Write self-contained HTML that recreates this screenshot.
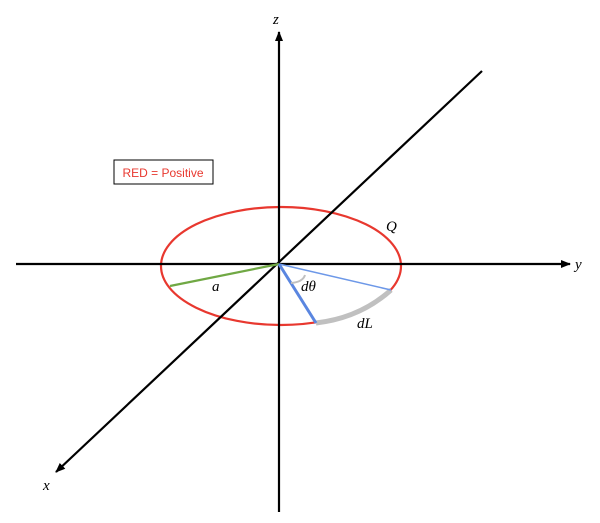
<!DOCTYPE html>
<html><head><style>body{margin:0;background:#fff}svg{display:block}</style></head>
<body>
<svg width="600" height="523" viewBox="0 0 600 523" xmlns="http://www.w3.org/2000/svg">
<defs>
<marker id="ar" markerWidth="10" markerHeight="8" refX="9" refY="4" orient="auto" markerUnits="userSpaceOnUse">
<path d="M0,0 L10,4 L0,8 Z" fill="#000"/></marker>
</defs>
<ellipse cx="281" cy="266" rx="120" ry="59" fill="none" stroke="#e8382f" stroke-width="2.2"/>
<path d="M316,323 Q360,318 391,290" fill="none" stroke="#c0c0c0" stroke-width="5"/>
<line x1="16" y1="264" x2="570" y2="264" stroke="#000" stroke-width="2.2" marker-end="url(#ar)"/>
<line x1="279" y1="512" x2="279" y2="32" stroke="#000" stroke-width="2.2" marker-end="url(#ar)"/>
<line x1="482" y1="71" x2="56" y2="472" stroke="#000" stroke-width="2.2" marker-end="url(#ar)"/>
<line x1="279" y1="264" x2="170" y2="286" stroke="#70a844" stroke-width="2.2"/>
<line x1="279" y1="264" x2="391" y2="290" stroke="#6d98e8" stroke-width="1.5"/>
<line x1="279" y1="264" x2="316" y2="323" stroke="#5a86e0" stroke-width="3"/>
<path d="M291,283 Q303,282 305,275" fill="none" stroke="#c0c0c0" stroke-width="2"/>
<rect x="114" y="160" width="99" height="24" fill="#fff" stroke="#000" stroke-width="1"/>
<text x="163" y="177" text-anchor="middle" font-family="Liberation Sans, sans-serif" font-size="12" fill="#e8382f">RED = Positive</text>
<g font-family="Liberation Serif, serif" font-style="italic" font-size="15" fill="#000">
<text x="273" y="24">z</text>
<text x="575" y="269">y</text>
<text x="43" y="490">x</text>
<text x="386" y="231">Q</text>
<text x="212" y="291">a</text>
<text x="301" y="291">dθ</text>
<text x="357" y="328">dL</text>
</g>
</svg>
</body></html>
